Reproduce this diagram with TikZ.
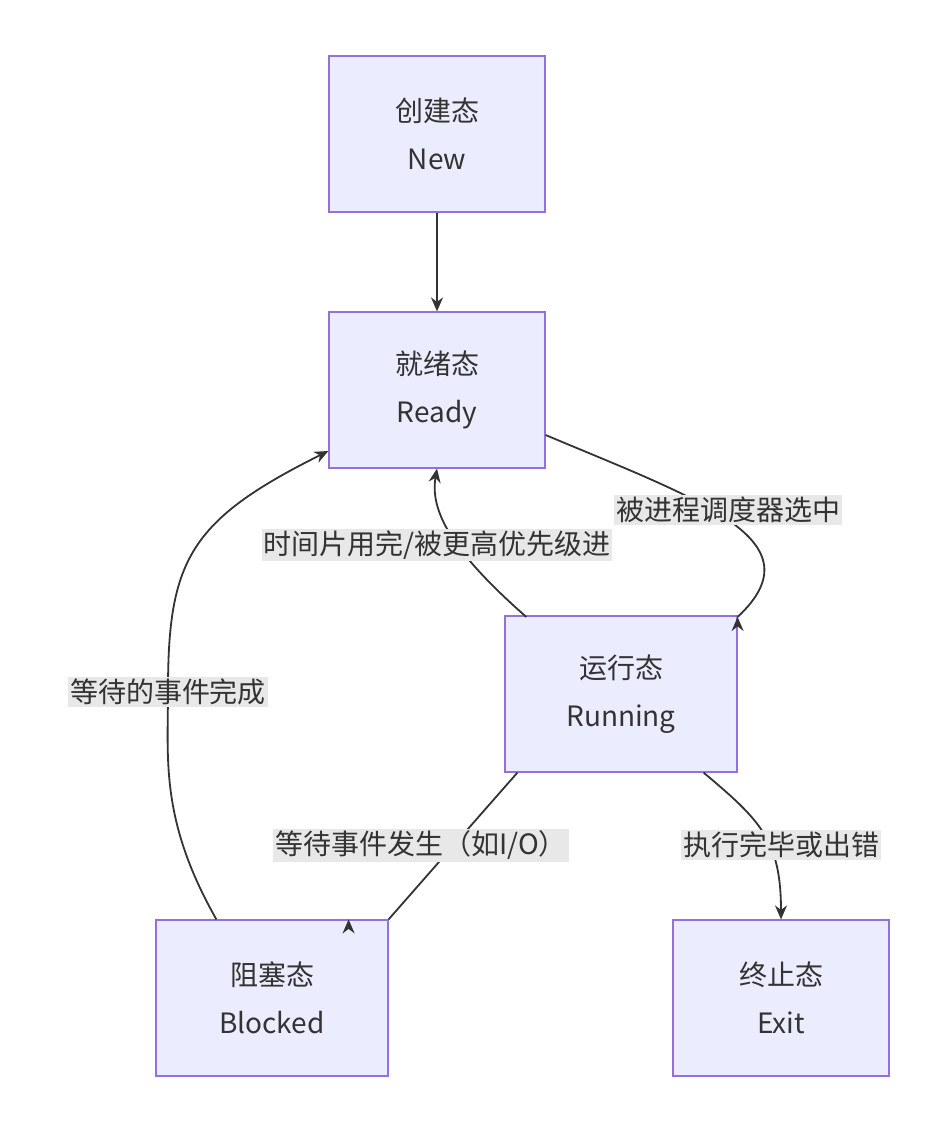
\documentclass[tikz,border=0pt]{standalone}
\usepackage{fontspec}
\setmainfont{Noto Sans CJK SC}
\usetikzlibrary{arrows.meta}
\definecolor{stfill}{HTML}{ECECFF}
\definecolor{stline}{HTML}{9370DB}
\definecolor{lblbg}{HTML}{E8E8E8}
\definecolor{edge}{HTML}{333333}
\begin{document}
\begin{tikzpicture}[x=0.5pt,y=-0.5pt,
    state/.style={draw=stline,fill=stfill,line width=0.6pt,minimum height=78pt,
      align=center,font=\fontsize{14}{24}\selectfont,text=edge},
    trans/.style={draw=edge,line width=0.9pt,-{Stealth[length=7pt,width=6pt]}},
    lbl/.style={fill=lblbg,inner sep=1pt,font=\fontsize{14}{16}\selectfont,text=edge}]
  \useasboundingbox (0,0) rectangle (949,1132);

  % States
  \node[state,minimum width=108pt] (new) at (437,134) {创建态\\New};
  \node[state,minimum width=108pt] (ready) at (437,390) {就绪态\\Ready};
  \node[state,minimum width=116pt] (run) at (621,694) {运行态\\Running};
  \node[state,minimum width=116pt] (block) at (272,998) {阻塞态\\Blocked};
  \node[state,minimum width=108pt] (exit) at (781,998) {终止态\\Exit};

  % Transitions
  \draw[trans] (new) -- (ready);
  \draw[trans] (ready.east |- 0,435) .. controls (700,500) and (820,540) .. (run.north east |- 0,617) ++(0,0)
    coordinate (a);
  \draw[trans] (run.north west |- 0,617) ++(22,0) .. controls (450,550) and (430,510) .. (ready.south);
  \draw[trans] (run.south west) ++(13,0) -- (block.north east) ++(-40,0);
  \draw[trans] (run.south east) ++(-34,0) .. controls (760,820) and (781,840) .. (exit.north);
  \draw[trans] (block.north west) ++(61,0) .. controls (160,820) and (168,760) .. (168,690)
    .. controls (168,560) and (190,520) .. (ready.south west |- 0,451);

  % Labels
  \node[lbl] (l1) at (728,510) {被进程调度器选中};
  \node[lbl] (l2) at (437,545) {时间片用完/被更高优先级进};
  \node[lbl] (l3) at (421,845) {等待事件发生（如I/O）};
  \node[lbl] (l4) at (781,845) {执行完毕或出错};
  \node[lbl] (l5) at (168,692) {等待的事件完成};
\end{tikzpicture}
\end{document}
